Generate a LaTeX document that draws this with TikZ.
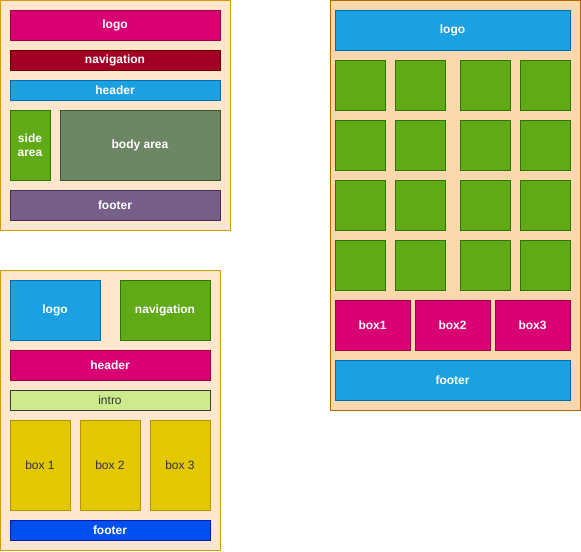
\documentclass[tikz,border=0pt]{standalone}
\usepackage{fontspec}
\setmainfont{Liberation Sans}
\definecolor{pageA}{HTML}{FFE6CC}\definecolor{pageAline}{HTML}{D79B00}
\definecolor{pageC}{HTML}{FAD7AC}\definecolor{pageCline}{HTML}{B46504}
\definecolor{pinkF}{HTML}{D80073}\definecolor{pinkL}{HTML}{A50040}
\definecolor{redF}{HTML}{A20025}\definecolor{redL}{HTML}{6F0000}
\definecolor{blueF}{HTML}{1BA1E2}\definecolor{blueL}{HTML}{006EAF}
\definecolor{greenF}{HTML}{60A917}\definecolor{greenL}{HTML}{2D7600}
\definecolor{oliveF}{HTML}{6D8764}\definecolor{oliveL}{HTML}{3A5431}
\definecolor{purpleF}{HTML}{76608A}\definecolor{purpleL}{HTML}{432D57}
\definecolor{limeF}{HTML}{CDEB8B}\definecolor{limeL}{HTML}{36393D}
\definecolor{yellowF}{HTML}{E3C800}\definecolor{yellowL}{HTML}{B09500}
\definecolor{cobaltF}{HTML}{0050EF}\definecolor{cobaltL}{HTML}{001DBC}
\definecolor{darktext}{HTML}{333333}
\tikzset{
  cell/.style={inner sep=0pt, outer sep=0pt, line width=0.75pt, align=center,
    font=\fontsize{9}{10.5}\selectfont\bfseries, text=white},
  plain/.style={cell, font=\fontsize{9}{10.5}\selectfont, text=darktext},
  pgA/.style={cell, fill=pageA, draw=pageAline},
  pgC/.style={cell, fill=pageC, draw=pageCline},
  pink/.style={cell, fill=pinkF, draw=pinkL},
  red/.style={cell, fill=redF, draw=redL},
  blue/.style={cell, fill=blueF, draw=blueL},
  green/.style={cell, fill=greenF, draw=greenL},
  olive/.style={cell, fill=oliveF, draw=oliveL},
  purple/.style={cell, fill=purpleF, draw=purpleL},
  lime/.style={plain, fill=limeF, draw=limeL},
  yellow/.style={plain, fill=yellowF, draw=yellowL},
  cobalt/.style={cell, fill=cobaltF, draw=cobaltL},
}
\newcommand{\bx}[7]{%
  \node[#6, minimum width={(#4-#2)*0.75pt}, minimum height={(#5-#3)*0.75pt}]
    (#1) at ({(#2+#4)/2},{(#3+#5)/2}) {#7};}
\begin{document}
\begin{tikzpicture}[x=0.75pt,y=-0.75pt]
\useasboundingbox (0,0) rectangle (581,551);
% panel 1
\bx{pa}{0.5}{0.5}{230}{230}{pgA}{}
\bx{paLogo}{10}{10}{220}{40}{pink}{logo}
\bx{paNav}{10}{50}{220}{70}{red}{navigation}
\bx{paHead}{10}{80}{220}{100}{blue}{header}
\bx{paSide}{10}{110}{50}{180}{green}{side\\area}
\bx{paBody}{60}{110}{220}{180}{olive}{body area}
\bx{paFoot}{10}{190}{220}{220}{purple}{footer}
% panel 2
\bx{pb}{0.5}{270}{220}{550}{pgA}{}
\bx{pbLogo}{10}{280}{100}{340}{blue}{logo}
\bx{pbNav}{120}{280}{210}{340}{green}{navigation}
\bx{pbHead}{10}{350}{210}{380}{pink}{header}
\bx{pbIntro}{10}{390}{210}{410}{lime}{intro}
\bx{pbBoxA}{10}{420}{70}{510}{yellow}{box 1}
\bx{pbBoxB}{80}{420}{140}{510}{yellow}{box 2}
\bx{pbBoxC}{150}{420}{210}{510}{yellow}{box 3}
\bx{pbFoot}{10}{520}{210}{540}{cobalt}{footer}
% panel 3
\bx{pc}{330}{0.5}{580}{410}{pgC}{}
\bx{pcLogo}{335}{10}{570}{50}{blue}{logo}
\foreach \r/\ya in {1/60,2/120,3/180,4/240}{
  \foreach \c/\xa in {1/335,2/395,3/460,4/520}{
    \pgfmathtruncatemacro{\xb}{\xa+50}
    \pgfmathtruncatemacro{\yb}{\ya+50}
    \bx{pcG\r\c}{\xa}{\ya}{\xb}{\yb}{green}{}
  }
}
\bx{pcBoxA}{335}{300}{410}{350}{pink}{box1}
\bx{pcBoxB}{415}{300}{490}{350}{pink}{box2}
\bx{pcBoxC}{495}{300}{570}{350}{pink}{box3}
\bx{pcFoot}{335}{360}{570}{400}{blue}{footer}
\end{tikzpicture}
\end{document}
